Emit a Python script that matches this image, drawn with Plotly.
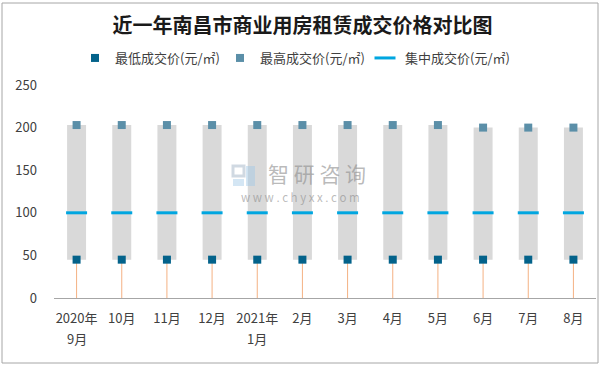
import plotly.graph_objects as go

categories = ["2020年9月", "10月", "11月", "12月", "2021年1月", "2月", "3月",
              "4月", "5月", "6月", "7月", "8月"]
tick_top = ["2020年", "10月", "11月", "12月", "2021年", "2月", "3月",
            "4月", "5月", "6月", "7月", "8月"]
tick_bottom = ["9月", "", "", "", "1月", "", "", "", "", "", "", ""]
min_price = [45, 45, 45, 45, 45, 45, 45, 45, 45, 45, 45, 45]
max_price = [203, 203, 203, 203, 203, 203, 203, 203, 203, 200, 200, 200]
mid_price = [100, 100, 100, 100, 100, 100, 100, 100, 100, 100, 100, 100]
y_ticks = [0, 50, 100, 150, 200, 250]

FONT = "Noto Sans CJK SC"
fig = go.Figure()

# floating grey range bars
fig.add_trace(go.Bar(
    x=categories, y=[h - l for h, l in zip(max_price, min_price)], base=min_price,
    width=0.42, marker=dict(color="#D9D9D9", line=dict(width=0)),
    showlegend=False, hoverinfo="skip"))

# drop lines from min value down to the axis (error bars below the min markers)
fig.add_trace(go.Scatter(
    x=categories, y=min_price, mode="markers", marker=dict(size=0, opacity=0),
    error_y=dict(type="data", symmetric=False, array=[0] * len(min_price),
                 arrayminus=min_price, color="#F4B183", thickness=1, width=0),
    showlegend=False, hoverinfo="skip"))

fig.add_trace(go.Scatter(
    x=categories, y=min_price, mode="markers", name="最低成交价(元/㎡)", legend="legend",
    marker=dict(symbol="square", size=8, color="#03628A")))
fig.add_trace(go.Scatter(
    x=categories, y=max_price, mode="markers", name="最高成交价(元/㎡)", legend="legend2",
    marker=dict(symbol="square", size=8, color="#5B8FA8")))
fig.add_trace(go.Scatter(
    x=categories, y=mid_price, mode="markers", name="集中成交价(元/㎡)", legend="legend3",
    marker=dict(symbol="line-ew", size=15, color="#00A6E0",
                line=dict(color="#00A6E0", width=3))))

W, H = 605, 366
L, R, T, B = 54, 9, 85, 68
pw, ph = W - L - R, H - T - B

def px(x):
    return (x - L) / pw

def py(y):
    return (H - B - y) / ph

def leg(x_px):
    return dict(orientation="h", xref="container", yref="container",
                x=x_px / W, xanchor="left", y=1 - 58 / H, yanchor="middle",
                font=dict(size=13, color="#404040"), itemwidth=30,
                bgcolor="rgba(0,0,0,0)")

annotations = [
    dict(text="智 研 咨 询", xref="paper", yref="paper", x=px(317), y=py(173),
         showarrow=False, font=dict(size=21, color="rgba(140,140,140,0.6)")),
    dict(text="w w w . c h y x x . c o m", xref="paper", yref="paper", x=px(300), y=py(197),
         showarrow=False, font=dict(size=11.5, color="rgba(140,140,140,0.6)")),
]
# second line of the two-line category labels
for c, t in zip(categories, tick_bottom):
    if t:
        annotations.append(dict(text=t, xref="x", yref="paper", x=c, y=py(338),
                                yanchor="middle", showarrow=False,
                                font=dict(size=13, color="#404040")))

fig.update_layout(
    width=W, height=H,
    margin=dict(l=L, r=R, t=T, b=B, autoexpand=False),
    paper_bgcolor="white", plot_bgcolor="white",
    font=dict(family=FONT, size=13, color="#404040"),
    title=dict(text="<b>近一年南昌市商业用房租赁成交价格对比图</b>",
               x=0.5, xanchor="center", y=1 - 26 / H, yanchor="middle",
               font=dict(family=FONT, size=20, color="#1a1a1a")),
    legend=leg(75), legend2=leg(220), legend3=leg(365),
    xaxis=dict(type="category", range=[-0.5, len(categories) - 0.5],
               tickvals=categories, ticktext=tick_top,
               showgrid=False, showline=True, linecolor="#A6A6A6",
               linewidth=1, ticks="", tickfont=dict(size=13, color="#404040"),
               ticklabelstandoff=8, automargin=False),
    yaxis=dict(range=[0, 250], tickvals=y_ticks, showgrid=False, showline=False,
               zeroline=False, ticks="", tickfont=dict(size=13, color="#404040"),
               ticklabelstandoff=16, automargin=False),
    shapes=[
        dict(type="rect", xref="paper", yref="paper",
             x0=px(2), x1=px(598), y0=py(363), y1=py(3),
             line=dict(color="#A6A6A6", width=1), fillcolor="rgba(0,0,0,0)", layer="above"),
        # watermark logo (approximation)
        dict(type="rect", xref="paper", yref="paper", x0=px(233), x1=px(244), y0=py(176), y1=py(166),
             line=dict(color="rgba(150,170,190,0.45)", width=3), fillcolor="rgba(0,0,0,0)"),
        dict(type="rect", xref="paper", yref="paper", x0=px(246), x1=px(255), y0=py(186), y1=py(166),
             line=dict(width=0), fillcolor="rgba(160,200,230,0.45)"),
        dict(type="rect", xref="paper", yref="paper", x0=px(233), x1=px(244), y0=py(186), y1=py(179),
             line=dict(width=0), fillcolor="rgba(160,200,230,0.45)"),
    ],
    annotations=annotations,
)

fig.write_html("out.html", post_script="document.body.style.margin='0';",
               config={"displayModeBar": False})
